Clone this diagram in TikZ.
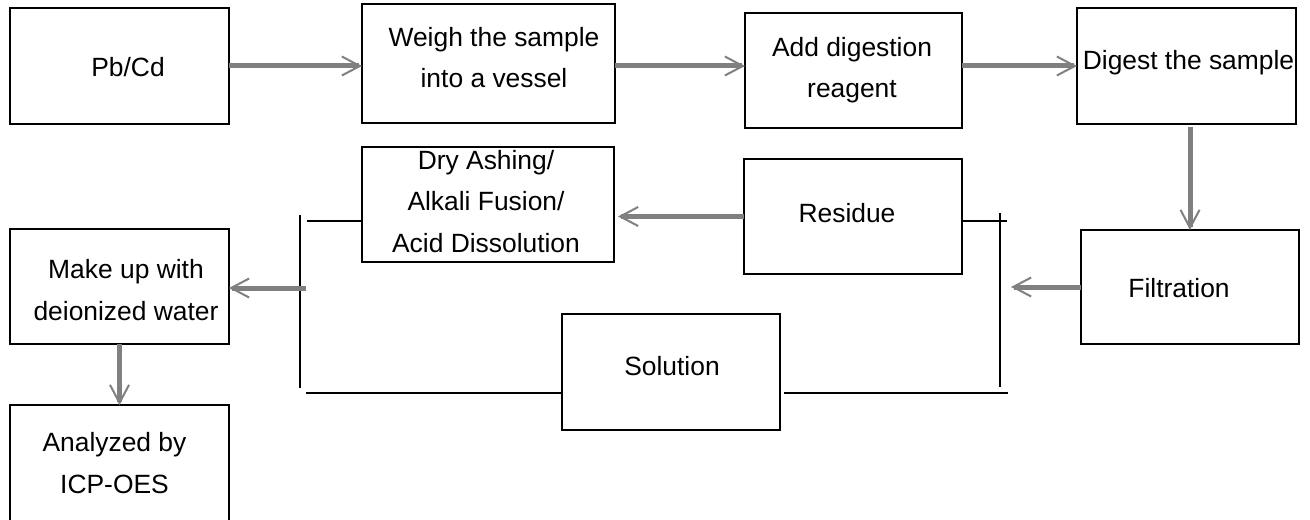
\documentclass[tikz,border=0pt]{standalone}
\usepackage{fontspec}
\setmainfont{Liberation Sans}
\usetikzlibrary{arrows.meta}
\definecolor{flowgray}{RGB}{128,128,128}
\begin{document}
\begin{tikzpicture}[x=0.5pt,y=-0.5pt,
						every node/.style={inner sep=0pt,outer sep=0pt}]
						\tikzstyle{box}=[draw,line width=0.65pt];
						\tikzstyle{txt}=[anchor=base,align=center,font=\fontsize{13.2pt}{20.75pt}\selectfont];
						\tikzstyle{flow}=[line width=2.5pt,flowgray,-{Straight Barb[length=9pt,width=9.5pt,line width=1pt]}];
						\tikzstyle{brace}=[line width=0.9pt];
						\useasboundingbox (0,0) rectangle (1310,519);
						\clip (0,0) rectangle (1310,519);
						% boxes
						\node[box,minimum width=109.5pt,minimum height=58pt] (pbcd) at (119.5,66) {};
						\node[box,minimum width=126.5pt,minimum height=59.5pt] (weigh) at (488.5,63.5) {};
						\node[box,minimum width=108.5pt,minimum height=57.5pt] (add) at (853.5,70.5) {};
						\node[box,minimum width=109.5pt,minimum height=58pt] (digest) at (1186.5,66) {};
						\node[box,minimum width=126pt,minimum height=57.5pt] (dry) at (488,204.5) {};
						\node[box,minimum width=109pt,minimum height=57.5pt] (resid) at (853,216.5) {};
						\node[box,minimum width=109pt,minimum height=57pt] (filt) at (1190,287) {};
						\node[box,minimum width=109pt,minimum height=58pt] (sol) at (671,372) {};
						\node[box,minimum width=109.5pt,minimum height=57.5pt] (make) at (119.5,286.5) {};
						\node[box,minimum width=109.5pt,minimum height=60pt] (anal) at (119.5,465) {};
						% texts (multi-line ones sit on their last baseline)
						\node[txt] (pbcd-t) at (128,76) {Pb/Cd};
						\node[txt] (weigh-t) at (494,88) {Weigh the sample\\into a vessel};
						\node[txt] (add-t) at (852,97.5) {Add digestion\\reagent};
						\node[txt] (digest-t) at (1188.5,69) {Digest the sample};
						\node[txt] (dry-t) at (486,252) {Dry Ashing/\\Alkali Fusion/\\Acid Dissolution};
						\node[txt] (resid-t) at (847,222) {Residue};
						\node[txt] (filt-t) at (1179,297) {Filtration};
						\node[txt] (sol-t) at (672,375) {Solution};
						\node[txt] (make-t) at (126,320) {Make up with\\deionized water};
						\node[txt] (anal-t) at (114.5,493) {Analyzed by\\ICP-OES};
						% split
						\coordinate (rb-top) at (1000,213);
						\coordinate (rb-bot) at (1000,387);
						\coordinate (rtee) at (1007,221);
						\coordinate (rbase) at (1008,393);
						\coordinate (lb-top) at (300,215);
						\coordinate (lb-bot) at (300,388);
						\coordinate (ltee) at (307,221);
						\coordinate (lbase) at (306,393);
						\coordinate (lout) at (306,288);
						\draw[brace] (rb-top) -- (rb-bot);
						\draw[brace] (rtee -| resid.east) -- (rtee);
						\draw[brace] ([xshift=2pt]rbase -| sol.east) -- (rbase);
						\draw[brace] (lb-top) -- (lb-bot);
						\draw[brace] (ltee) -- (ltee -| dry.west);
						\draw[brace] (lbase) -- (lbase -| sol.west);
						% arrows
						\draw[flow] (pbcd.east) -- (pbcd.east -| weigh.west);
						\draw[flow] (weigh.east |- pbcd.east) -- (pbcd.east -| add.west);
						\draw[flow] (add.east |- pbcd.east) -- (pbcd.east -| digest.west);
						\draw[flow,shorten <=1.5pt] (digest.south -| filt.north) -- (filt.north);
						\draw[flow,shorten >=5.5pt] (filt.west) -- (filt.west -| rb-top);
						\draw[flow,shorten >=2pt] (resid.west) -- (resid.west -| dry.east);
						\draw[flow] (lout) -- (lout -| make.east);
						\draw[flow] (make.south) -- (make.south |- anal.north);
					\end{tikzpicture}
\end{document}
